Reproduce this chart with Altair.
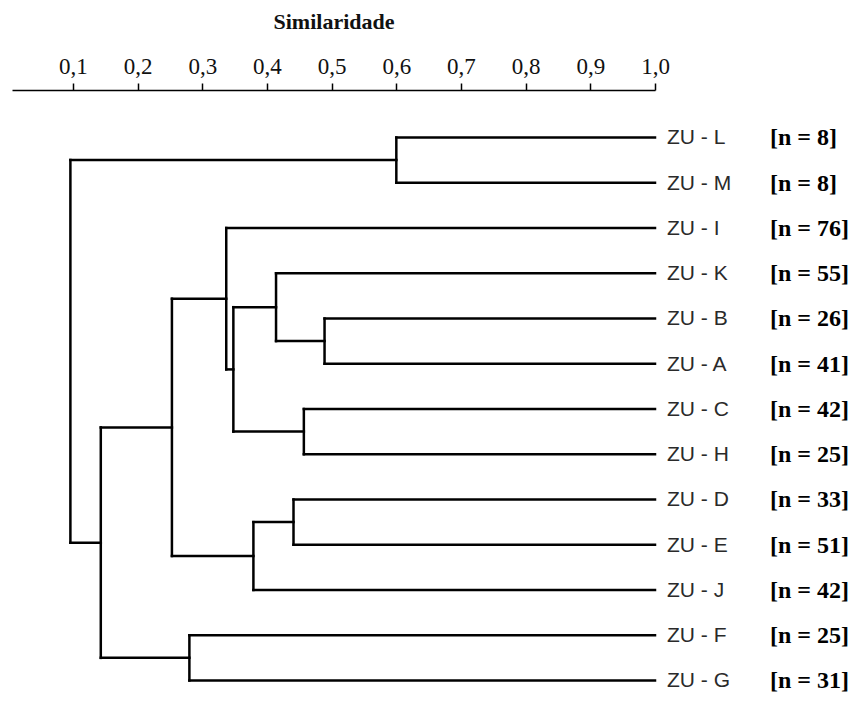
import altair as alt
import pandas as pd

# Leaves (top to bottom) and sample sizes
leaves = ["L", "M", "I", "K", "B", "A", "C", "H", "D", "E", "J", "F", "G"]
n_values = [8, 8, 76, 55, 26, 41, 42, 25, 33, 51, 42, 25, 31]

# Merges of the dendrogram: node name, left child, right child, similarity
merge_names = ["n1", "n2", "n3", "n4", "n5", "n6", "n7", "n8", "n9", "n10", "n11", "n12"]
merge_left = ["L", "B", "K", "C", "n3", "I", "D", "n7", "n6", "F", "n9", "n1"]
merge_right = ["M", "A", "n2", "H", "n4", "n5", "E", "J", "n8", "G", "n10", "n11"]
merge_height = [0.600, 0.489, 0.414, 0.457, 0.348, 0.337, 0.441, 0.379, 0.253, 0.280, 0.143, 0.096]

tick_values = [0.1, 0.2, 0.3, 0.4, 0.5, 0.6, 0.7, 0.8, 0.9, 1.0]

# Build segments from the tree
pos = {lf: i for i, lf in enumerate(leaves)}
hgt = {lf: 1.0 for lf in leaves}
segs = []
for name, l, r, h in zip(merge_names, merge_left, merge_right, merge_height):
    pos[name] = (pos[l] + pos[r]) / 2
    hgt[name] = h
    segs.append({"x": h, "x2": h, "y": pos[l], "y2": pos[r]})
    segs.append({"x": h, "x2": hgt[l], "y": pos[l], "y2": pos[l]})
    segs.append({"x": h, "x2": hgt[r], "y": pos[r], "y2": pos[r]})
seg_df = pd.DataFrame(segs)

leaf_df = pd.DataFrame({
    "idx": list(range(len(leaves))),
    "label": ["ZU - " + lf for lf in leaves],
    "nlab": [f"[n = {v}]" for v in n_values],
})

xscale = alt.Scale(domain=[0.0057, 1.0], nice=False, zero=False)
yscale = alt.Scale(domain=[-1.0497, 12.21], nice=False, zero=False, reverse=True)

xaxis = alt.Axis(
    orient="top", values=tick_values,
    labelExpr="replace(format(datum.value, '.1f'), '.', ',')",
    title="Similaridade", grid=False,
    domainColor="black", domainWidth=1.5,
    tickColor="black", tickWidth=1.5, tickSize=7,
    labelPadding=5, labelFlush=False, labelOverlap=False,
    labelFont="Liberation Serif", labelFontSize=23, labelColor="#111",
    titleFont="Liberation Serif", titleFontSize=22, titleFontWeight="bold",
    titleColor="#111", titleY=-62, titleBaseline="alphabetic",
)

lines = alt.Chart(seg_df).mark_rule(color="black", strokeWidth=2.5, strokeCap="square").encode(
    x=alt.X("x:Q", scale=xscale, axis=xaxis),
    x2="x2:Q",
    y=alt.Y("y:Q", scale=yscale, axis=None),
    y2="y2:Q",
)

zu = alt.Chart(leaf_df).mark_text(
    align="left", baseline="middle", dx=12, dy=1,
    font="Liberation Sans", fontSize=21, color="#2a2a2a",
).encode(
    x=alt.datum(1.0),
    y=alt.Y("idx:Q", scale=yscale, axis=None),
    text="label:N",
)

nl = alt.Chart(leaf_df).mark_text(
    align="left", baseline="middle", dx=115, dy=1,
    font="Liberation Serif", fontSize=24, fontWeight="bold", color="black",
).encode(
    x=alt.datum(1.0),
    y=alt.Y("idx:Q", scale=yscale, axis=None),
    text="nlab:N",
)

chart = alt.layer(lines, zu, nl).properties(
    width=643, height=600,
    autosize=alt.AutoSizeParams(type="none"),
    padding={"left": 4, "top": 82, "right": 198, "bottom": 5},
).configure_view(stroke=None)

chart.save("out.html", embed_options={"renderer": "svg", "actions": False})
